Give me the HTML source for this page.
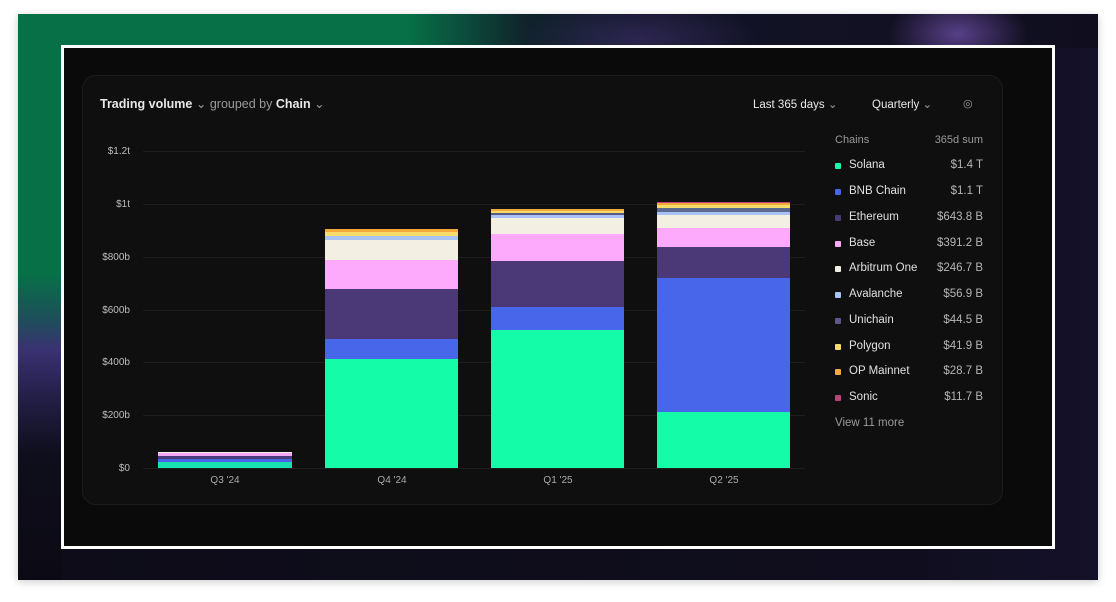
<!DOCTYPE html>
<html><head><meta charset="utf-8"><style>
*{margin:0;padding:0;box-sizing:border-box}
body{width:1116px;height:602px;background:#fff;position:relative;overflow:hidden;font-family:"Liberation Sans",sans-serif}
#frame{position:absolute;left:18px;top:14px;width:1080px;height:566px;background:linear-gradient(90deg,#0d0c18,#100e1e 900px,#14112a);box-shadow:0 2px 8px rgba(0,0,0,.2)}
#topb{position:absolute;left:18px;top:14px;width:1080px;height:34px;
background:radial-gradient(ellipse 70px 40px at 940px 20px,rgba(110,80,170,.75),transparent),
radial-gradient(ellipse 120px 40px at 620px 25px,rgba(70,55,120,.5),transparent),
linear-gradient(90deg,#077047 0,#077047 390px,#0b4a3a 450px,#10222a 510px,#131428 620px,#100e1e 1080px)}
#leftb{position:absolute;left:18px;top:14px;width:44px;height:566px;
background:linear-gradient(180deg,#077047 0,#077047 260px,#1d4f5a 305px,#3a3272 335px,#25204a 380px,#0f0e1c 440px,#0b0a14 566px)}
#wb{position:absolute;left:61px;top:45px;width:994px;height:504px;border:3px solid #fff;background:#0a0a0a}
#card{position:absolute;left:82px;top:75px;width:921px;height:430px;background:#0f0f0f;border:1px solid #1c1c1c;border-radius:14px}
.t{position:absolute;color:#e8e8e8;font-size:12.5px;white-space:nowrap}
.g{color:#9a9a9a}
.ax{position:absolute;color:#bdbdbd;font-size:10px;text-align:right;width:60px;left:70px}
.gl{position:absolute;left:143px;width:662px;height:1px;background:#1d1d1d}
.seg{position:absolute}
.xl{position:absolute;color:#aaa;font-size:10px;width:134px;text-align:center;top:475px}
.lg{position:absolute;left:835px;width:148px;font-size:11.5px;color:#e0e0e0}
.lg i{position:absolute;left:0;top:4px;width:6px;height:6px;border-radius:1px}
.lg span{position:absolute;left:14px}
.lg b{position:absolute;right:0;font-weight:normal;color:#b5b5b5}
</style></head><body>
<div id="frame"></div><div id="topb"></div><div id="leftb"></div>
<div id="wb"></div>
<div id="card"></div>
<div class="t" style="left:100px;top:96px;font-weight:bold">Trading volume <span class="g" style="font-weight:normal">⌄</span> <span class="g" style="font-weight:normal">grouped by</span> Chain <span class="g" style="font-weight:normal">⌄</span></div>
<div class="t" style="left:753px;top:97px;font-size:11.5px">Last 365 days <span class="g">⌄</span></div>
<div class="t" style="left:872px;top:97px;font-size:11.5px">Quarterly <span class="g">⌄</span></div>
<div class="t g" style="left:963px;top:97px;font-size:11px">◎</div>

<div class="gl" style="top:151px"></div><div class="gl" style="top:204px"></div><div class="gl" style="top:257px"></div><div class="gl" style="top:310px"></div><div class="gl" style="top:362px"></div><div class="gl" style="top:415px"></div><div class="gl" style="top:468px"></div>
<div class="ax" style="top:146px">$1.2t</div><div class="ax" style="top:199px">$1t</div><div class="ax" style="top:252px">$800b</div><div class="ax" style="top:305px">$600b</div><div class="ax" style="top:357px">$400b</div><div class="ax" style="top:410px">$200b</div><div class="ax" style="top:463px">$0</div>

<!-- Q3 -->
<div class="seg" style="left:158px;width:134px;top:462px;height:6px;background:#19e0b0"></div>
<div class="seg" style="left:158px;width:134px;top:459px;height:3px;background:#4a62e8"></div>
<div class="seg" style="left:158px;width:134px;top:456px;height:3px;background:#4b3a7c"></div>
<div class="seg" style="left:158px;width:134px;top:453px;height:3px;background:#f7a6f4"></div>
<div class="seg" style="left:158px;width:134px;top:452px;height:1px;background:#f2eee2"></div>
<!-- Q4 -->
<div class="seg" style="left:325px;width:133px;top:359px;height:109px;background:#15fca8"></div>
<div class="seg" style="left:325px;width:133px;top:339px;height:20px;background:#4866e9"></div>
<div class="seg" style="left:325px;width:133px;top:289px;height:50px;background:#4b3877"></div>
<div class="seg" style="left:325px;width:133px;top:260px;height:29px;background:#fdaafc"></div>
<div class="seg" style="left:325px;width:133px;top:240px;height:20px;background:#f3efe3"></div>
<div class="seg" style="left:325px;width:133px;top:236px;height:4px;background:#a9c3f4"></div>
<div class="seg" style="left:325px;width:133px;top:232px;height:4px;background:#f6dd6a"></div>
<div class="seg" style="left:325px;width:133px;top:229px;height:3px;background:#f4a93c"></div>
<!-- Q1 -->
<div class="seg" style="left:491px;width:133px;top:330px;height:138px;background:#15fca8"></div>
<div class="seg" style="left:491px;width:133px;top:307px;height:23px;background:#4866e9"></div>
<div class="seg" style="left:491px;width:133px;top:261px;height:46px;background:#4b3877"></div>
<div class="seg" style="left:491px;width:133px;top:234px;height:27px;background:#fdaafc"></div>
<div class="seg" style="left:491px;width:133px;top:218px;height:16px;background:#f3efe3"></div>
<div class="seg" style="left:491px;width:133px;top:215px;height:3px;background:#a9c3f4"></div>
<div class="seg" style="left:491px;width:133px;top:213px;height:2px;background:#5a5a8a"></div>
<div class="seg" style="left:491px;width:133px;top:211px;height:2px;background:#f6dd6a"></div>
<div class="seg" style="left:491px;width:133px;top:209px;height:2px;background:#f4a93c"></div>
<!-- Q2 -->
<div class="seg" style="left:657px;width:133px;top:412px;height:56px;background:#15fca8"></div>
<div class="seg" style="left:657px;width:133px;top:278px;height:134px;background:#4866e9"></div>
<div class="seg" style="left:657px;width:133px;top:247px;height:31px;background:#4b3877"></div>
<div class="seg" style="left:657px;width:133px;top:228px;height:19px;background:#fdaafc"></div>
<div class="seg" style="left:657px;width:133px;top:215px;height:13px;background:#f3efe3"></div>
<div class="seg" style="left:657px;width:133px;top:212px;height:3px;background:#a9c3f4"></div>
<div class="seg" style="left:657px;width:133px;top:208px;height:4px;background:#5b6a8e"></div>
<div class="seg" style="left:657px;width:133px;top:205px;height:3px;background:#f6dd6a"></div>
<div class="seg" style="left:657px;width:133px;top:203px;height:2px;background:#f4a93c"></div>
<div class="seg" style="left:657px;width:133px;top:202px;height:1px;background:#c0407a"></div>

<div class="xl" style="left:158px">Q3 '24</div><div class="xl" style="left:325px">Q4 '24</div><div class="xl" style="left:491px">Q1 '25</div><div class="xl" style="left:657px">Q2 '25</div>

<div class="lg" style="top:134px;color:#9a9a9a;font-size:11px"><span style="left:0">Chains</span><b style="color:#9a9a9a">365d sum</b></div>
<div class="lg" style="top:159px"><i style="background:#15fca8"></i><span>Solana</span><b>$1.4 T</b></div>
<div class="lg" style="top:185px"><i style="background:#4866e9"></i><span>BNB Chain</span><b>$1.1 T</b></div>
<div class="lg" style="top:211px"><i style="background:#4b3877"></i><span>Ethereum</span><b>$643.8 B</b></div>
<div class="lg" style="top:237px"><i style="background:#fdaafc"></i><span>Base</span><b>$391.2 B</b></div>
<div class="lg" style="top:262px"><i style="background:#f3efe3"></i><span>Arbitrum One</span><b>$246.7 B</b></div>
<div class="lg" style="top:288px"><i style="background:#a9c3f4"></i><span>Avalanche</span><b>$56.9 B</b></div>
<div class="lg" style="top:314px"><i style="background:#5a5a8a"></i><span>Unichain</span><b>$44.5 B</b></div>
<div class="lg" style="top:340px"><i style="background:#f6dd6a"></i><span>Polygon</span><b>$41.9 B</b></div>
<div class="lg" style="top:365px"><i style="background:#f4a93c"></i><span>OP Mainnet</span><b>$28.7 B</b></div>
<div class="lg" style="top:391px"><i style="background:#c0407a"></i><span>Sonic</span><b>$11.7 B</b></div>
<div class="lg" style="top:417px;color:#9a9a9a"><span style="left:0">View 11 more</span></div>
</body></html>
